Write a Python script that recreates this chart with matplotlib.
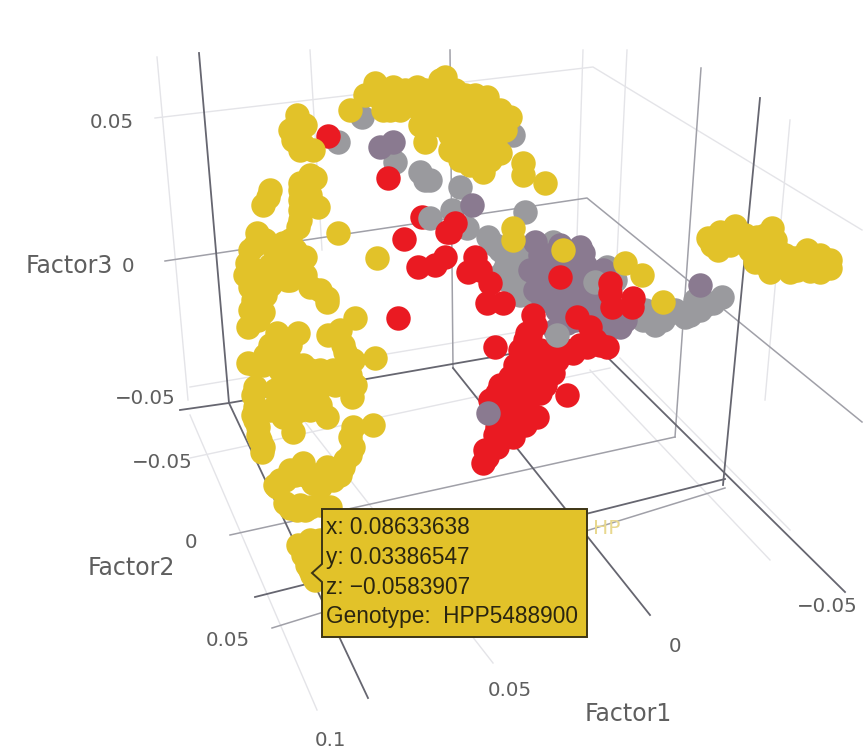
import matplotlib
matplotlib.use('Agg')
import matplotlib.pyplot as plt
from matplotlib.patches import Polygon

# projected positions of the points (x, y on screen)
yellow = [
    (375,83),(393,87),(417,87),(383,110),(440,80),(427,123),(425,142),(350,110),(403,100),(445,77),
    (430,100),(420,110),(455,105),(470,105),(487,97),(500,110),(510,117),(505,130),(495,145),(500,153),
    (483,172),(460,160),(470,150),(450,150),(445,125),(460,125),(480,125),(490,115),(470,135),(450,105),
    (385,90),(385,100),(395,100),(405,90),(415,100),(425,90),(435,90),(435,105),(445,95),(455,90),
    (465,95),(475,95),(465,115),(475,115),(485,110),(495,125),(450,135),(460,140),(470,145),(480,155),
    (490,160),(460,150),(470,165),(485,140),(480,135),(495,135),(440,125),(435,115),(420,125),(410,105),
    (400,110),(390,110),(375,95),(365,95),
    (297,122),(293,140),(313,150),(300,130),(303,145),(297,115),(290,130),(305,125),(300,150),
    (270,190),(263,205),(315,178),(300,183),(300,210),(318,207),(298,227),(338,233),(377,258),(268,197),
    (310,175),(300,190),(300,200),(300,220),(310,195),
    (257,233),(283,243),(305,257),(247,263),(263,273),(283,270),(290,280),(310,287),(327,298),(250,287),
    (250,277),(287,280),(327,302),(253,300),(263,312),(248,327),(355,318),(328,335),(340,330),(343,345),
    (255,245),(265,240),(250,250),(275,250),(290,255),(295,250),(290,240),(245,275),(255,270),(270,265),
    (270,285),(265,295),(275,275),(295,265),(300,270),(305,275),(320,290),(250,310),(258,320),
    (375,358),(353,360),(277,333),(298,333),(273,350),(248,363),(263,365),(303,365),(287,380),(310,380),
    (285,340),(290,345),(280,360),(270,345),(265,355),(255,365),(290,360),(280,370),(295,375),(310,370),
    (320,385),(335,385),(300,385),(275,390),(290,395),(310,395),(270,410),(280,410),(290,420),(310,410),
    (320,405),(345,352),(350,375),(345,375),(355,385),
    (333,370),(343,383),(352,397),(255,387),(255,407),(258,427),(263,447),(283,400),(303,400),(317,393),
    (253,395),(253,415),(255,420),(258,435),(260,440),(262,452),
    (283,417),(300,410),(293,432),(327,417),(373,425),(353,427),(353,447),(343,467),(327,467),(313,483),
    (303,463),(290,470),(275,485),(333,480),(290,508),(330,507),(310,507),(277,487),(320,487),(303,548),
    (350,437),(350,455),(345,460),(335,470),(320,475),(315,475),(305,475),(295,475),(285,480),(280,480),
    (340,475),(285,503),(300,505),(320,505),(297,510),(305,510),(298,545),(303,555),(307,565),(312,575),
    (315,580),(320,560),(310,570),(320,540),(310,540),(285,385),(295,390),(320,370),
    (708,238),(735,226),(772,228),(750,250),(763,263),(783,265),(807,250),(817,263),(830,260),(718,250),
    (757,237),(797,270),(810,271),(777,250),(725,235),(712,245),(730,245),(745,235),(765,235),(775,240),
    (740,240),(765,250),(785,255),(795,258),(805,258),(820,255),(820,272),(790,272),(770,272),(755,262),
    (830,268),(720,232),
    (513,228),(625,263),(642,275),(523,163),(523,175),(545,183),(513,240),
]
gray = [
    (362,117),(338,142),(395,162),(420,172),(425,180),(430,180),(460,187),(452,210),(430,218),(525,212),
    (488,237),(505,255),(527,253),(467,228),(553,242),(522,280),(607,267),(593,283),(643,320),(663,320),
    (683,313),(700,307),(713,303),(722,297),(507,280),(670,313),(513,135),(650,320),(685,317),(625,310),
    (500,250),(515,262),(540,270),(560,295),(575,285),(598,290),
    (495,245),(515,258),(520,252),(505,268),(530,260),(515,275),(500,275),(525,290),(520,295),(535,300),
    (610,280),(605,290),(600,295),(615,280),(630,315),(650,315),(660,315),(675,310),(690,315),(700,310),
    (645,310),(655,325),(695,300),(705,305),
]
purple = [
    (380,147),(393,142),(472,205),(535,242),(580,247),(543,263),(583,253),(700,285),(543,280),(577,270),
    (603,270),(583,293),(547,300),(560,310),(573,307),(557,310),(567,323),(620,327),(600,310),(543,300),
    (555,285),(565,270),(590,275),(610,325),
    (530,270),(535,290),(550,255),(560,245),(575,255),(585,265),(600,280),(570,290),(550,295),(575,320),
    (590,310),(595,300),(615,320),(625,320),(610,310),(540,255),(575,300),(555,330),
]
red_back = [(422,217)]
red = [
    (328,136),(388,178),(404,239),(418,267),(435,265),(445,257),(447,232),(455,223),(450,232),(475,257),
    (468,272),(480,270),(490,283),(487,303),(503,303),(398,318),(495,347),(533,315),(527,333),(607,347),
    (587,347),(573,353),(557,360),(530,353),(520,363),(510,377),(533,377),(553,373),(567,395),(540,393),
    (497,393),(520,393),(530,413),(510,413),(497,427),(513,437),(487,457),(483,463),(497,447),(537,417),
    (530,335),(540,350),(520,385),(505,400),(525,400),(560,277),(577,317),(590,327),
    (490,450),(500,440),(505,430),(515,425),(525,425),(500,415),(505,405),(515,405),(525,385),(535,385),
    (545,385),(510,390),(520,375),(530,365),(540,365),(550,360),(560,355),(565,350),(580,345),(595,340),
    (600,345),(520,350),(525,340),(535,325),(530,370),(515,365),(500,385),(490,400),(500,400),(505,420),
    (495,435),(485,450),
]
gray_front = [(557,335),(595,282)]
purple_front = [(488,413)]
red_front = [(610,293),(633,298),(612,307),(610,283),(632,307)]
yellow_front = [(563,250),(663,302)]

# box edges and grid lines, as screen polylines
dark_lines = [
    [(199,53),(229,403)], [(180,410),(229,403),(590,340)],
    [(229,403),(368,698)], [(255,597),(725,479)], [(760,98),(723,485)],
    [(590,340),(845,592)], [(453,368),(650,615)],
]
mid_lines = [
    [(165,261),(587,198),(862,422)], [(701,68),(675,437)], [(450,50),(453,368)],
    [(230,535),(675,437)], [(272,628),(725,488)],
]
light_lines = [
    [(155,118),(593,67),(862,230)], [(157,57),(188,400)], [(310,50),(322,250)],
    [(583,50),(577,237)], [(627,50),(617,257)], [(790,120),(765,400)],
    [(190,387),(590,320)], [(190,458),(610,368)],
    [(190,415),(317,710)], [(280,390),(493,663)], [(620,358),(790,530)], [(590,370),(770,560)],
]

tick_labels = [
    ('0.05', 112, 123), ('0', 128, 267), ('\u22120.05', 145, 398),
    ('\u22120.05', 162, 462), ('0', 191, 542), ('0.05', 228, 640),
    ('0.1', 331, 740), ('0.05', 510, 691), ('0', 675, 647), ('\u22120.05', 827, 607),
]
axis_titles = [('Factor3', 69, 266), ('Factor2', 131, 568), ('Factor1', 628, 714)]
hover_lines = ['x: 0.08633638', 'y: 0.03386547', 'z: \u22120.0583907', 'Genotype:  HPP5488900']

YELLOW = '#e2c229'
GRAY = '#9a9a9e'
PURPLE = '#8a7a90'
RED = '#ea1a22'
TEXT = '#5f5f5f'

fig = plt.figure(figsize=(8.64, 7.52), dpi=100)
ax = fig.add_axes([0, 0, 1, 1])
ax.set_xlim(0, 864)
ax.set_ylim(752, 0)
ax.axis('off')

for line in light_lines:
    ax.plot(*zip(*line), color='#e4e4e8', lw=1.0, zorder=1)
for line in mid_lines:
    ax.plot(*zip(*line), color='#a0a0a8', lw=1.1, zorder=1)
for line in dark_lines:
    ax.plot(*zip(*line), color='#666670', lw=1.3, zorder=1)

size = 310
layers = [(red_back, RED), (gray, GRAY), (purple, PURPLE), (red, RED), (gray_front, GRAY),
          (purple_front, PURPLE), (red_front, RED), (yellow, YELLOW), (yellow_front, YELLOW)]
for i, (pts, col) in enumerate(layers):
    ax.scatter(*zip(*pts), s=size, color=col, linewidths=0, zorder=2 + i)

for label, x, y in tick_labels:
    ax.text(x, y, label, fontsize=14.3, color=TEXT, ha='center', va='center')
for label, x, y in axis_titles:
    ax.text(x, y, label, fontsize=17, color=TEXT, ha='center', va='center')
ax.text(607, 528, 'HP', fontsize=14.5, color='#e8d88f', ha='center', va='center')

# hover box with its little notch on the left edge
box = [(322,509),(587,509),(587,637),(322,637),(322,582),(312,573),(322,564)]
ax.add_patch(Polygon(box, closed=True, facecolor=YELLOW, edgecolor='#3d3515', lw=1.4, zorder=20))
for i, txt in enumerate(hover_lines):
    ax.text(326, 528 + i * 29.5, txt, fontsize=16.3, color='#2a2510', family='Liberation Sans',
            ha='left', va='center', zorder=21)

fig.savefig('out.png', dpi=100)
